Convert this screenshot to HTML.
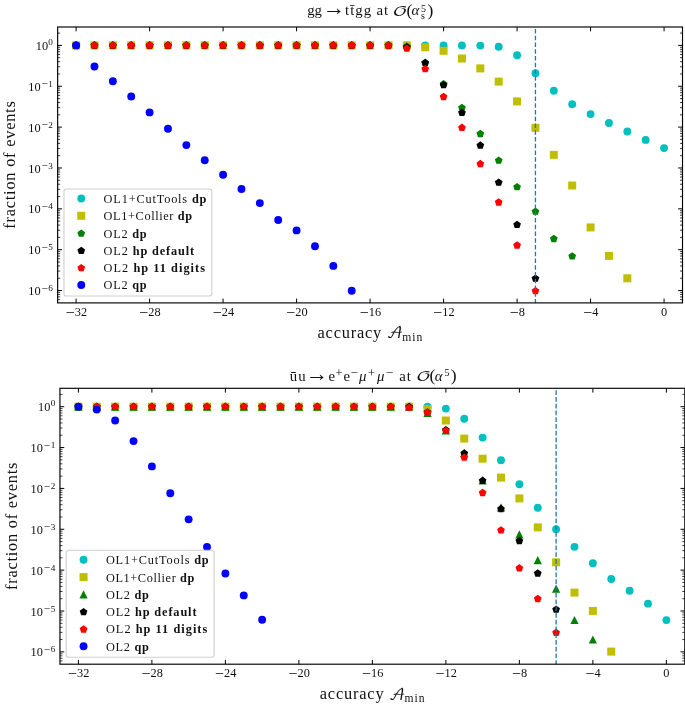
<!DOCTYPE html>
<html lang="en">
<head>
<meta charset="utf-8">
<title>OpenLoops numerical stability</title>
<style>
html,body{margin:0;padding:0;background:#fff;}
body{width:685px;height:716px;overflow:hidden;}
svg{display:block;will-change:transform;}
text{font-family:"Liberation Serif","DejaVu Serif",serif;fill:#111;}
.tl text{font-size:12.3px;}
.tl .sup{font-size:9.2px;}
.tl .mn{font-size:11.2px;}
.tl .xm{font-size:16px;}
.lab{font-size:16.4px;}
.lab.sub{font-size:11.6px;}
.cal{font-family:"DejaVu Math TeX Gyre","Liberation Serif",serif;}
.lg{font-size:12.3px;}
.lg .b{font-weight:bold;}
.ttl text{font-size:14.8px;}
.ttl .ss{font-size:10px;}
.ttl .pm{font-size:13px;}
.ttl .par{font-size:17.5px;}
.ttl .it{font-style:italic;}
.ttl .arr{font-size:22.3px;}
</style>
</head>
<body>
<svg width="685" height="716" viewBox="0 0 685 716">
<rect width="685" height="716" fill="#fff"/>
<g class="ttl">
<text x="307.2" y="15.3" textLength="14.8" lengthAdjust="spacing">gg</text>
<text x="322.4" y="15.3" class="arr">→</text>
<text x="345.1" y="15.3" textLength="26" lengthAdjust="spacing">tt̄gg</text>
<text x="376.4" y="15.3" textLength="11.6" lengthAdjust="spacing">at</text>
<text class="cal" transform="translate(392.6 15.6) scale(1.42 1)" x="0" y="0" style="font-size:13.6px">𝒪</text>
<text x="406.4" y="15.9" class="par">(</text>
<text x="411.5" y="15.3" class="it">α</text>
<text x="420.9" y="12.1" class="ss">5</text>
<text x="421.0" y="19.4" class="ss">s</text>
<text x="427.4" y="15.9" class="par">)</text>
</g>
<g>
<g fill="#00bfbf">
<circle cx="76.1" cy="45.4" r="3.95" fill="#00bfbf"/>
<circle cx="94.47" cy="45.4" r="3.95" fill="#00bfbf"/>
<circle cx="112.85" cy="45.4" r="3.95" fill="#00bfbf"/>
<circle cx="131.22" cy="45.4" r="3.95" fill="#00bfbf"/>
<circle cx="149.6" cy="45.4" r="3.95" fill="#00bfbf"/>
<circle cx="167.97" cy="45.4" r="3.95" fill="#00bfbf"/>
<circle cx="186.34" cy="45.4" r="3.95" fill="#00bfbf"/>
<circle cx="204.72" cy="45.4" r="3.95" fill="#00bfbf"/>
<circle cx="223.09" cy="45.4" r="3.95" fill="#00bfbf"/>
<circle cx="241.47" cy="45.4" r="3.95" fill="#00bfbf"/>
<circle cx="259.84" cy="45.4" r="3.95" fill="#00bfbf"/>
<circle cx="278.21" cy="45.4" r="3.95" fill="#00bfbf"/>
<circle cx="296.59" cy="45.4" r="3.95" fill="#00bfbf"/>
<circle cx="314.96" cy="45.4" r="3.95" fill="#00bfbf"/>
<circle cx="333.34" cy="45.4" r="3.95" fill="#00bfbf"/>
<circle cx="351.71" cy="45.4" r="3.95" fill="#00bfbf"/>
<circle cx="370.08" cy="45.4" r="3.95" fill="#00bfbf"/>
<circle cx="388.46" cy="45.4" r="3.95" fill="#00bfbf"/>
<circle cx="406.83" cy="45.4" r="3.95" fill="#00bfbf"/>
<circle cx="425.21" cy="45.4" r="3.95" fill="#00bfbf"/>
<circle cx="443.58" cy="45.4" r="3.95" fill="#00bfbf"/>
<circle cx="461.95" cy="45.4" r="3.95" fill="#00bfbf"/>
<circle cx="480.33" cy="45.6" r="3.95" fill="#00bfbf"/>
<circle cx="498.7" cy="46.8" r="3.95" fill="#00bfbf"/>
<circle cx="517.08" cy="55.3" r="3.95" fill="#00bfbf"/>
<circle cx="535.45" cy="73.15" r="3.95" fill="#00bfbf"/>
<circle cx="553.82" cy="90.8" r="3.95" fill="#00bfbf"/>
<circle cx="572.2" cy="104.2" r="3.95" fill="#00bfbf"/>
<circle cx="590.57" cy="114.1" r="3.95" fill="#00bfbf"/>
<circle cx="608.95" cy="123" r="3.95" fill="#00bfbf"/>
<circle cx="627.32" cy="131.5" r="3.95" fill="#00bfbf"/>
<circle cx="645.69" cy="139.9" r="3.95" fill="#00bfbf"/>
<circle cx="664.07" cy="148.1" r="3.95" fill="#00bfbf"/>
</g>
<g fill="#bfbf00">
<rect x="72.1" y="41.4" width="8.0" height="8.0" fill="#bfbf00"/>
<rect x="90.47" y="41.4" width="8.0" height="8.0" fill="#bfbf00"/>
<rect x="108.85" y="41.4" width="8.0" height="8.0" fill="#bfbf00"/>
<rect x="127.22" y="41.4" width="8.0" height="8.0" fill="#bfbf00"/>
<rect x="145.6" y="41.4" width="8.0" height="8.0" fill="#bfbf00"/>
<rect x="163.97" y="41.4" width="8.0" height="8.0" fill="#bfbf00"/>
<rect x="182.34" y="41.4" width="8.0" height="8.0" fill="#bfbf00"/>
<rect x="200.72" y="41.4" width="8.0" height="8.0" fill="#bfbf00"/>
<rect x="219.09" y="41.4" width="8.0" height="8.0" fill="#bfbf00"/>
<rect x="237.47" y="41.4" width="8.0" height="8.0" fill="#bfbf00"/>
<rect x="255.84" y="41.4" width="8.0" height="8.0" fill="#bfbf00"/>
<rect x="274.21" y="41.4" width="8.0" height="8.0" fill="#bfbf00"/>
<rect x="292.59" y="41.4" width="8.0" height="8.0" fill="#bfbf00"/>
<rect x="310.96" y="41.4" width="8.0" height="8.0" fill="#bfbf00"/>
<rect x="329.34" y="41.4" width="8.0" height="8.0" fill="#bfbf00"/>
<rect x="347.71" y="41.4" width="8.0" height="8.0" fill="#bfbf00"/>
<rect x="366.08" y="41.4" width="8.0" height="8.0" fill="#bfbf00"/>
<rect x="384.46" y="41.4" width="8.0" height="8.0" fill="#bfbf00"/>
<rect x="402.83" y="41.4" width="8.0" height="8.0" fill="#bfbf00"/>
<rect x="421.21" y="43.3" width="8.0" height="8.0" fill="#bfbf00"/>
<rect x="439.58" y="46.8" width="8.0" height="8.0" fill="#bfbf00"/>
<rect x="457.95" y="54.5" width="8.0" height="8.0" fill="#bfbf00"/>
<rect x="476.33" y="64.4" width="8.0" height="8.0" fill="#bfbf00"/>
<rect x="494.7" y="77.6" width="8.0" height="8.0" fill="#bfbf00"/>
<rect x="513.08" y="97.4" width="8.0" height="8.0" fill="#bfbf00"/>
<rect x="531.45" y="123.8" width="8.0" height="8.0" fill="#bfbf00"/>
<rect x="549.82" y="150.85" width="8.0" height="8.0" fill="#bfbf00"/>
<rect x="568.2" y="181.5" width="8.0" height="8.0" fill="#bfbf00"/>
<rect x="586.57" y="223.4" width="8.0" height="8.0" fill="#bfbf00"/>
<rect x="604.95" y="251.9" width="8.0" height="8.0" fill="#bfbf00"/>
<rect x="623.32" y="274.3" width="8.0" height="8.0" fill="#bfbf00"/>
</g>
<g fill="#008000">
<polygon points="76.1,41.35 72.25,44.15 73.72,48.68 78.48,48.68 79.95,44.15" fill="#008000"/>
<polygon points="94.47,41.35 90.62,44.15 92.09,48.68 96.85,48.68 98.33,44.15" fill="#008000"/>
<polygon points="112.85,41.35 109,44.15 110.47,48.68 115.23,48.68 116.7,44.15" fill="#008000"/>
<polygon points="131.22,41.35 127.37,44.15 128.84,48.68 133.6,48.68 135.07,44.15" fill="#008000"/>
<polygon points="149.6,41.35 145.74,44.15 147.22,48.68 151.98,48.68 153.45,44.15" fill="#008000"/>
<polygon points="167.97,41.35 164.12,44.15 165.59,48.68 170.35,48.68 171.82,44.15" fill="#008000"/>
<polygon points="186.34,41.35 182.49,44.15 183.96,48.68 188.72,48.68 190.2,44.15" fill="#008000"/>
<polygon points="204.72,41.35 200.87,44.15 202.34,48.68 207.1,48.68 208.57,44.15" fill="#008000"/>
<polygon points="223.09,41.35 219.24,44.15 220.71,48.68 225.47,48.68 226.94,44.15" fill="#008000"/>
<polygon points="241.47,41.35 237.61,44.15 239.09,48.68 243.85,48.68 245.32,44.15" fill="#008000"/>
<polygon points="259.84,41.35 255.99,44.15 257.46,48.68 262.22,48.68 263.69,44.15" fill="#008000"/>
<polygon points="278.21,41.35 274.36,44.15 275.83,48.68 280.59,48.68 282.07,44.15" fill="#008000"/>
<polygon points="296.59,41.35 292.74,44.15 294.21,48.68 298.97,48.68 300.44,44.15" fill="#008000"/>
<polygon points="314.96,41.35 311.11,44.15 312.58,48.68 317.34,48.68 318.81,44.15" fill="#008000"/>
<polygon points="333.34,41.35 329.48,44.15 330.96,48.68 335.72,48.68 337.19,44.15" fill="#008000"/>
<polygon points="351.71,41.35 347.86,44.15 349.33,48.68 354.09,48.68 355.56,44.15" fill="#008000"/>
<polygon points="370.08,41.35 366.23,44.15 367.7,48.68 372.46,48.68 373.94,44.15" fill="#008000"/>
<polygon points="388.46,41.35 384.61,44.15 386.08,48.68 390.84,48.68 392.31,44.15" fill="#008000"/>
<polygon points="406.83,42.5 402.98,45.3 404.45,49.83 409.21,49.83 410.68,45.3" fill="#008000"/>
<polygon points="425.21,58.6 421.35,61.4 422.83,65.93 427.59,65.93 429.06,61.4" fill="#008000"/>
<polygon points="443.58,79.9 439.73,82.7 441.2,87.23 445.96,87.23 447.43,82.7" fill="#008000"/>
<polygon points="461.95,103.7 458.1,106.5 459.57,111.03 464.33,111.03 465.81,106.5" fill="#008000"/>
<polygon points="480.33,129.8 476.48,132.6 477.95,137.13 482.71,137.13 484.18,132.6" fill="#008000"/>
<polygon points="498.7,156.4 494.85,159.2 496.32,163.73 501.08,163.73 502.55,159.2" fill="#008000"/>
<polygon points="517.08,182.9 513.22,185.7 514.7,190.23 519.46,190.23 520.93,185.7" fill="#008000"/>
<polygon points="535.45,207.5 531.6,210.3 533.07,214.83 537.83,214.83 539.3,210.3" fill="#008000"/>
<polygon points="553.82,234.8 549.97,237.6 551.44,242.13 556.2,242.13 557.68,237.6" fill="#008000"/>
<polygon points="572.2,252.2 568.35,255 569.82,259.53 574.58,259.53 576.05,255" fill="#008000"/>
</g>
<g fill="#000000">
<polygon points="76.1,41.35 72.25,44.15 73.72,48.68 78.48,48.68 79.95,44.15" fill="#000000"/>
<polygon points="94.47,41.35 90.62,44.15 92.09,48.68 96.85,48.68 98.33,44.15" fill="#000000"/>
<polygon points="112.85,41.35 109,44.15 110.47,48.68 115.23,48.68 116.7,44.15" fill="#000000"/>
<polygon points="131.22,41.35 127.37,44.15 128.84,48.68 133.6,48.68 135.07,44.15" fill="#000000"/>
<polygon points="149.6,41.35 145.74,44.15 147.22,48.68 151.98,48.68 153.45,44.15" fill="#000000"/>
<polygon points="167.97,41.35 164.12,44.15 165.59,48.68 170.35,48.68 171.82,44.15" fill="#000000"/>
<polygon points="186.34,41.35 182.49,44.15 183.96,48.68 188.72,48.68 190.2,44.15" fill="#000000"/>
<polygon points="204.72,41.35 200.87,44.15 202.34,48.68 207.1,48.68 208.57,44.15" fill="#000000"/>
<polygon points="223.09,41.35 219.24,44.15 220.71,48.68 225.47,48.68 226.94,44.15" fill="#000000"/>
<polygon points="241.47,41.35 237.61,44.15 239.09,48.68 243.85,48.68 245.32,44.15" fill="#000000"/>
<polygon points="259.84,41.35 255.99,44.15 257.46,48.68 262.22,48.68 263.69,44.15" fill="#000000"/>
<polygon points="278.21,41.35 274.36,44.15 275.83,48.68 280.59,48.68 282.07,44.15" fill="#000000"/>
<polygon points="296.59,41.35 292.74,44.15 294.21,48.68 298.97,48.68 300.44,44.15" fill="#000000"/>
<polygon points="314.96,41.35 311.11,44.15 312.58,48.68 317.34,48.68 318.81,44.15" fill="#000000"/>
<polygon points="333.34,41.35 329.48,44.15 330.96,48.68 335.72,48.68 337.19,44.15" fill="#000000"/>
<polygon points="351.71,41.35 347.86,44.15 349.33,48.68 354.09,48.68 355.56,44.15" fill="#000000"/>
<polygon points="370.08,41.35 366.23,44.15 367.7,48.68 372.46,48.68 373.94,44.15" fill="#000000"/>
<polygon points="388.46,41.35 384.61,44.15 386.08,48.68 390.84,48.68 392.31,44.15" fill="#000000"/>
<polygon points="406.83,43.3 402.98,46.1 404.45,50.63 409.21,50.63 410.68,46.1" fill="#000000"/>
<polygon points="425.21,59 421.35,61.8 422.83,66.33 427.59,66.33 429.06,61.8" fill="#000000"/>
<polygon points="443.58,80.9 439.73,83.7 441.2,88.23 445.96,88.23 447.43,83.7" fill="#000000"/>
<polygon points="461.95,108.7 458.1,111.5 459.57,116.03 464.33,116.03 465.81,111.5" fill="#000000"/>
<polygon points="480.33,141.35 476.48,144.15 477.95,148.68 482.71,148.68 484.18,144.15" fill="#000000"/>
<polygon points="498.7,178.45 494.85,181.25 496.32,185.78 501.08,185.78 502.55,181.25" fill="#000000"/>
<polygon points="517.08,220.7 513.22,223.5 514.7,228.03 519.46,228.03 520.93,223.5" fill="#000000"/>
<polygon points="535.45,274.5 531.6,277.3 533.07,281.83 537.83,281.83 539.3,277.3" fill="#000000"/>
</g>
<g fill="#ff0000">
<polygon points="76.1,41.35 72.25,44.15 73.72,48.68 78.48,48.68 79.95,44.15" fill="#ff0000"/>
<polygon points="94.47,41.35 90.62,44.15 92.09,48.68 96.85,48.68 98.33,44.15" fill="#ff0000"/>
<polygon points="112.85,41.35 109,44.15 110.47,48.68 115.23,48.68 116.7,44.15" fill="#ff0000"/>
<polygon points="131.22,41.35 127.37,44.15 128.84,48.68 133.6,48.68 135.07,44.15" fill="#ff0000"/>
<polygon points="149.6,41.35 145.74,44.15 147.22,48.68 151.98,48.68 153.45,44.15" fill="#ff0000"/>
<polygon points="167.97,41.35 164.12,44.15 165.59,48.68 170.35,48.68 171.82,44.15" fill="#ff0000"/>
<polygon points="186.34,41.35 182.49,44.15 183.96,48.68 188.72,48.68 190.2,44.15" fill="#ff0000"/>
<polygon points="204.72,41.35 200.87,44.15 202.34,48.68 207.1,48.68 208.57,44.15" fill="#ff0000"/>
<polygon points="223.09,41.35 219.24,44.15 220.71,48.68 225.47,48.68 226.94,44.15" fill="#ff0000"/>
<polygon points="241.47,41.35 237.61,44.15 239.09,48.68 243.85,48.68 245.32,44.15" fill="#ff0000"/>
<polygon points="259.84,41.35 255.99,44.15 257.46,48.68 262.22,48.68 263.69,44.15" fill="#ff0000"/>
<polygon points="278.21,41.35 274.36,44.15 275.83,48.68 280.59,48.68 282.07,44.15" fill="#ff0000"/>
<polygon points="296.59,41.35 292.74,44.15 294.21,48.68 298.97,48.68 300.44,44.15" fill="#ff0000"/>
<polygon points="314.96,41.35 311.11,44.15 312.58,48.68 317.34,48.68 318.81,44.15" fill="#ff0000"/>
<polygon points="333.34,41.35 329.48,44.15 330.96,48.68 335.72,48.68 337.19,44.15" fill="#ff0000"/>
<polygon points="351.71,41.35 347.86,44.15 349.33,48.68 354.09,48.68 355.56,44.15" fill="#ff0000"/>
<polygon points="370.08,41.35 366.23,44.15 367.7,48.68 372.46,48.68 373.94,44.15" fill="#ff0000"/>
<polygon points="388.46,41.35 384.61,44.15 386.08,48.68 390.84,48.68 392.31,44.15" fill="#ff0000"/>
<polygon points="406.83,44.4 402.98,47.2 404.45,51.73 409.21,51.73 410.68,47.2" fill="#ff0000"/>
<polygon points="425.21,65 421.35,67.8 422.83,72.33 427.59,72.33 429.06,67.8" fill="#ff0000"/>
<polygon points="443.58,92.8 439.73,95.6 441.2,100.13 445.96,100.13 447.43,95.6" fill="#ff0000"/>
<polygon points="461.95,123.6 458.1,126.4 459.57,130.93 464.33,130.93 465.81,126.4" fill="#ff0000"/>
<polygon points="480.33,159.85 476.48,162.65 477.95,167.18 482.71,167.18 484.18,162.65" fill="#ff0000"/>
<polygon points="498.7,198.3 494.85,201.1 496.32,205.63 501.08,205.63 502.55,201.1" fill="#ff0000"/>
<polygon points="517.08,241.3 513.22,244.1 514.7,248.63 519.46,248.63 520.93,244.1" fill="#ff0000"/>
<polygon points="535.45,287 531.6,289.8 533.07,294.33 537.83,294.33 539.3,289.8" fill="#ff0000"/>
</g>
<g fill="#0000ff">
<circle cx="76.1" cy="45.4" r="3.95" fill="#0000ff"/>
<circle cx="94.47" cy="66.45" r="3.95" fill="#0000ff"/>
<circle cx="112.85" cy="81.3" r="3.95" fill="#0000ff"/>
<circle cx="131.22" cy="96.5" r="3.95" fill="#0000ff"/>
<circle cx="149.6" cy="112.4" r="3.95" fill="#0000ff"/>
<circle cx="167.97" cy="128.75" r="3.95" fill="#0000ff"/>
<circle cx="186.34" cy="145.1" r="3.95" fill="#0000ff"/>
<circle cx="204.72" cy="160.2" r="3.95" fill="#0000ff"/>
<circle cx="223.09" cy="174.75" r="3.95" fill="#0000ff"/>
<circle cx="241.47" cy="189" r="3.95" fill="#0000ff"/>
<circle cx="259.84" cy="203.1" r="3.95" fill="#0000ff"/>
<circle cx="278.21" cy="220" r="3.95" fill="#0000ff"/>
<circle cx="296.59" cy="230.4" r="3.95" fill="#0000ff"/>
<circle cx="314.96" cy="246.3" r="3.95" fill="#0000ff"/>
<circle cx="333.34" cy="265.9" r="3.95" fill="#0000ff"/>
<circle cx="351.71" cy="290.7" r="3.95" fill="#0000ff"/>
</g>
<line x1="535.45" y1="302.9" x2="535.45" y2="27" stroke="#1f77b4" stroke-width="1.3" stroke-dasharray="4.7 2.05" stroke-dashoffset="0.7"/>
<path d="M76.1 302.9v-4.3M76.1 27v4.3M149.6 302.9v-4.3M149.6 27v4.3M223.09 302.9v-4.3M223.09 27v4.3M296.59 302.9v-4.3M296.59 27v4.3M370.08 302.9v-4.3M370.08 27v4.3M443.58 302.9v-4.3M443.58 27v4.3M517.08 302.9v-4.3M517.08 27v4.3M590.57 302.9v-4.3M590.57 27v4.3M664.07 302.9v-4.3M664.07 27v4.3M57.65 45.4h4.3M682.5 45.4h-4.3M57.65 86.26h4.3M682.5 86.26h-4.3M57.65 127.12h4.3M682.5 127.12h-4.3M57.65 167.98h4.3M682.5 167.98h-4.3M57.65 208.84h4.3M682.5 208.84h-4.3M57.65 249.7h4.3M682.5 249.7h-4.3M57.65 290.56h4.3M682.5 290.56h-4.3" stroke="#000" stroke-width="1" fill="none"/>
<path d="M57.65 33.1h2.5M682.5 33.1h-2.5M57.65 73.96h2.5M682.5 73.96h-2.5M57.65 66.76h2.5M682.5 66.76h-2.5M57.65 61.66h2.5M682.5 61.66h-2.5M57.65 57.7h2.5M682.5 57.7h-2.5M57.65 54.46h2.5M682.5 54.46h-2.5M57.65 51.73h2.5M682.5 51.73h-2.5M57.65 49.36h2.5M682.5 49.36h-2.5M57.65 47.27h2.5M682.5 47.27h-2.5M57.65 114.82h2.5M682.5 114.82h-2.5M57.65 107.62h2.5M682.5 107.62h-2.5M57.65 102.52h2.5M682.5 102.52h-2.5M57.65 98.56h2.5M682.5 98.56h-2.5M57.65 95.32h2.5M682.5 95.32h-2.5M57.65 92.59h2.5M682.5 92.59h-2.5M57.65 90.22h2.5M682.5 90.22h-2.5M57.65 88.13h2.5M682.5 88.13h-2.5M57.65 155.68h2.5M682.5 155.68h-2.5M57.65 148.48h2.5M682.5 148.48h-2.5M57.65 143.38h2.5M682.5 143.38h-2.5M57.65 139.42h2.5M682.5 139.42h-2.5M57.65 136.18h2.5M682.5 136.18h-2.5M57.65 133.45h2.5M682.5 133.45h-2.5M57.65 131.08h2.5M682.5 131.08h-2.5M57.65 128.99h2.5M682.5 128.99h-2.5M57.65 196.54h2.5M682.5 196.54h-2.5M57.65 189.34h2.5M682.5 189.34h-2.5M57.65 184.24h2.5M682.5 184.24h-2.5M57.65 180.28h2.5M682.5 180.28h-2.5M57.65 177.04h2.5M682.5 177.04h-2.5M57.65 174.31h2.5M682.5 174.31h-2.5M57.65 171.94h2.5M682.5 171.94h-2.5M57.65 169.85h2.5M682.5 169.85h-2.5M57.65 237.4h2.5M682.5 237.4h-2.5M57.65 230.2h2.5M682.5 230.2h-2.5M57.65 225.1h2.5M682.5 225.1h-2.5M57.65 221.14h2.5M682.5 221.14h-2.5M57.65 217.9h2.5M682.5 217.9h-2.5M57.65 215.17h2.5M682.5 215.17h-2.5M57.65 212.8h2.5M682.5 212.8h-2.5M57.65 210.71h2.5M682.5 210.71h-2.5M57.65 278.26h2.5M682.5 278.26h-2.5M57.65 271.06h2.5M682.5 271.06h-2.5M57.65 265.96h2.5M682.5 265.96h-2.5M57.65 262h2.5M682.5 262h-2.5M57.65 258.76h2.5M682.5 258.76h-2.5M57.65 256.03h2.5M682.5 256.03h-2.5M57.65 253.66h2.5M682.5 253.66h-2.5M57.65 251.57h2.5M682.5 251.57h-2.5M57.65 299.62h2.5M682.5 299.62h-2.5M57.65 296.89h2.5M682.5 296.89h-2.5M57.65 294.52h2.5M682.5 294.52h-2.5M57.65 292.43h2.5M682.5 292.43h-2.5" stroke="#000" stroke-width="0.75" fill="none"/>
<rect x="57.65" y="27" width="624.85" height="275.9" fill="none" stroke="#000" stroke-width="1.15"/>
<g class="tl">
<text x="76.4" y="315.75" text-anchor="middle"><tspan class="xm" dy="2.3">−</tspan><tspan dy="-2.3">32</tspan></text>
<text x="149.9" y="315.75" text-anchor="middle"><tspan class="xm" dy="2.3">−</tspan><tspan dy="-2.3">28</tspan></text>
<text x="223.39" y="315.75" text-anchor="middle"><tspan class="xm" dy="2.3">−</tspan><tspan dy="-2.3">24</tspan></text>
<text x="296.89" y="315.75" text-anchor="middle"><tspan class="xm" dy="2.3">−</tspan><tspan dy="-2.3">20</tspan></text>
<text x="370.38" y="315.75" text-anchor="middle"><tspan class="xm" dy="2.3">−</tspan><tspan dy="-2.3">16</tspan></text>
<text x="443.88" y="315.75" text-anchor="middle"><tspan class="xm" dy="2.3">−</tspan><tspan dy="-2.3">12</tspan></text>
<text x="517.38" y="315.75" text-anchor="middle"><tspan class="xm" dy="2.3">−</tspan><tspan dy="-2.3">8</tspan></text>
<text x="590.87" y="315.75" text-anchor="middle"><tspan class="xm" dy="2.3">−</tspan><tspan dy="-2.3">4</tspan></text>
<text x="664.07" y="315.75" text-anchor="middle">0</text>
<text x="48.05" y="49.95" text-anchor="end">10</text>
<text class="sup" x="52.95" y="45.15" text-anchor="end">0</text>
<text x="40.55" y="90.81" text-anchor="end">10</text>
<text class="mn" x="41.55" y="87.41">−</text>
<text class="sup" x="52.95" y="86.81" text-anchor="end">1</text>
<text x="40.55" y="131.67" text-anchor="end">10</text>
<text class="mn" x="41.55" y="128.27">−</text>
<text class="sup" x="52.95" y="127.67" text-anchor="end">2</text>
<text x="40.55" y="172.53" text-anchor="end">10</text>
<text class="mn" x="41.55" y="169.13">−</text>
<text class="sup" x="52.95" y="168.53" text-anchor="end">3</text>
<text x="40.55" y="213.39" text-anchor="end">10</text>
<text class="mn" x="41.55" y="209.99">−</text>
<text class="sup" x="52.95" y="209.39" text-anchor="end">4</text>
<text x="40.55" y="254.25" text-anchor="end">10</text>
<text class="mn" x="41.55" y="250.85">−</text>
<text class="sup" x="52.95" y="250.25" text-anchor="end">5</text>
<text x="40.55" y="295.11" text-anchor="end">10</text>
<text class="mn" x="41.55" y="291.71">−</text>
<text class="sup" x="52.95" y="291.11" text-anchor="end">6</text>
</g>
<text class="lab" x="317.5" y="337.8" textLength="63.8" lengthAdjust="spacing">accuracy</text>
<text class="cal" transform="translate(386.8 338.2) scale(1.05 1)" style="font-size:14.7px">𝒜</text>
<text class="lab sub" x="402.3" y="340.8" textLength="20" lengthAdjust="spacing">min</text>
<text class="lab" transform="translate(14.7 164.95) rotate(-90)" text-anchor="middle" textLength="127.5" lengthAdjust="spacing">fraction of events</text>
<rect x="63.97" y="189" width="147.83" height="107" rx="2.6" fill="#fff" fill-opacity="0.8" stroke="#ccc" stroke-opacity="0.95" stroke-width="1.1"/>
<circle cx="81.26" cy="198.5" r="3.95" fill="#00bfbf"/>
<text class="lg" x="103.6" y="202.9" textLength="102.8" lengthAdjust="spacing">OL1+CutTools <tspan class="b">dp</tspan></text>
<rect x="77.26" y="211.8" width="8.0" height="8.0" fill="#bfbf00"/>
<text class="lg" x="103.6" y="220.2" textLength="88.5" lengthAdjust="spacing">OL1+Collier <tspan class="b">dp</tspan></text>
<polygon points="81.26,229.4 77.41,232.2 78.88,236.73 83.64,236.73 85.11,232.2" fill="#008000"/>
<text class="lg" x="103.6" y="237.5" textLength="43.0" lengthAdjust="spacing">OL2 <tspan class="b">dp</tspan></text>
<polygon points="81.26,246.7 77.41,249.5 78.88,254.03 83.64,254.03 85.11,249.5" fill="#000000"/>
<text class="lg" x="103.6" y="254.8" textLength="90.6" lengthAdjust="spacing">OL2 <tspan class="b">hp default</tspan></text>
<polygon points="81.26,264 77.41,266.8 78.88,271.33 83.64,271.33 85.11,266.8" fill="#ff0000"/>
<text class="lg" x="103.6" y="272.1" textLength="101.4" lengthAdjust="spacing">OL2 <tspan class="b">hp 11 digits</tspan></text>
<circle cx="81.26" cy="285" r="3.95" fill="#0000ff"/>
<text class="lg" x="103.6" y="289.4" textLength="43.0" lengthAdjust="spacing">OL2 <tspan class="b">qp</tspan></text>
</g>
<g class="ttl">
<text x="289.8" y="380.5" textLength="15.8" lengthAdjust="spacing">ūu</text>
<text x="305.5" y="380.5" class="arr">→</text>
<text x="328.4" y="380.5">e</text>
<text x="335.3" y="377.4" class="pm">+</text>
<text x="343.4" y="380.5">e</text>
<text x="350.4" y="377.0" class="pm">−</text>
<text x="359.0" y="380.5" class="it">μ</text>
<text x="367.8" y="377.4" class="pm">+</text>
<text x="377.0" y="380.5" class="it">μ</text>
<text x="385.8" y="377.0" class="pm">−</text>
<text x="399.3" y="380.5" textLength="11.6" lengthAdjust="spacing">at</text>
<text class="cal" transform="translate(415.9 380.8) scale(1.42 1)" x="0" y="0" style="font-size:13.6px">𝒪</text>
<text x="429.6" y="381.1" class="par">(</text>
<text x="434.7" y="380.5" class="it">α</text>
<text x="444.6" y="375.9" class="ss">5</text>
<text x="450.7" y="381.1" class="par">)</text>
</g>
<g>
<g fill="#00bfbf">
<circle cx="78.4" cy="406.7" r="3.95" fill="#00bfbf"/>
<circle cx="96.77" cy="406.7" r="3.95" fill="#00bfbf"/>
<circle cx="115.15" cy="406.7" r="3.95" fill="#00bfbf"/>
<circle cx="133.52" cy="406.7" r="3.95" fill="#00bfbf"/>
<circle cx="151.9" cy="406.7" r="3.95" fill="#00bfbf"/>
<circle cx="170.27" cy="406.7" r="3.95" fill="#00bfbf"/>
<circle cx="188.64" cy="406.7" r="3.95" fill="#00bfbf"/>
<circle cx="207.02" cy="406.7" r="3.95" fill="#00bfbf"/>
<circle cx="225.39" cy="406.7" r="3.95" fill="#00bfbf"/>
<circle cx="243.77" cy="406.7" r="3.95" fill="#00bfbf"/>
<circle cx="262.14" cy="406.7" r="3.95" fill="#00bfbf"/>
<circle cx="280.51" cy="406.7" r="3.95" fill="#00bfbf"/>
<circle cx="298.89" cy="406.7" r="3.95" fill="#00bfbf"/>
<circle cx="317.26" cy="406.7" r="3.95" fill="#00bfbf"/>
<circle cx="335.64" cy="406.7" r="3.95" fill="#00bfbf"/>
<circle cx="354.01" cy="406.7" r="3.95" fill="#00bfbf"/>
<circle cx="372.38" cy="406.7" r="3.95" fill="#00bfbf"/>
<circle cx="390.76" cy="406.7" r="3.95" fill="#00bfbf"/>
<circle cx="409.13" cy="406.7" r="3.95" fill="#00bfbf"/>
<circle cx="427.51" cy="406.7" r="3.95" fill="#00bfbf"/>
<circle cx="445.88" cy="408.6" r="3.95" fill="#00bfbf"/>
<circle cx="464.25" cy="418.75" r="3.95" fill="#00bfbf"/>
<circle cx="482.63" cy="437.6" r="3.95" fill="#00bfbf"/>
<circle cx="501" cy="460.2" r="3.95" fill="#00bfbf"/>
<circle cx="519.38" cy="484.3" r="3.95" fill="#00bfbf"/>
<circle cx="537.75" cy="507.75" r="3.95" fill="#00bfbf"/>
<circle cx="556.12" cy="529.3" r="3.95" fill="#00bfbf"/>
<circle cx="574.5" cy="546.85" r="3.95" fill="#00bfbf"/>
<circle cx="592.87" cy="563.2" r="3.95" fill="#00bfbf"/>
<circle cx="611.25" cy="579.05" r="3.95" fill="#00bfbf"/>
<circle cx="629.62" cy="590.8" r="3.95" fill="#00bfbf"/>
<circle cx="647.99" cy="603.65" r="3.95" fill="#00bfbf"/>
<circle cx="666.37" cy="620.1" r="3.95" fill="#00bfbf"/>
</g>
<g fill="#bfbf00">
<rect x="74.4" y="402.7" width="8.0" height="8.0" fill="#bfbf00"/>
<rect x="92.77" y="402.7" width="8.0" height="8.0" fill="#bfbf00"/>
<rect x="111.15" y="402.7" width="8.0" height="8.0" fill="#bfbf00"/>
<rect x="129.52" y="402.7" width="8.0" height="8.0" fill="#bfbf00"/>
<rect x="147.9" y="402.7" width="8.0" height="8.0" fill="#bfbf00"/>
<rect x="166.27" y="402.7" width="8.0" height="8.0" fill="#bfbf00"/>
<rect x="184.64" y="402.7" width="8.0" height="8.0" fill="#bfbf00"/>
<rect x="203.02" y="402.7" width="8.0" height="8.0" fill="#bfbf00"/>
<rect x="221.39" y="402.7" width="8.0" height="8.0" fill="#bfbf00"/>
<rect x="239.77" y="402.7" width="8.0" height="8.0" fill="#bfbf00"/>
<rect x="258.14" y="402.7" width="8.0" height="8.0" fill="#bfbf00"/>
<rect x="276.51" y="402.7" width="8.0" height="8.0" fill="#bfbf00"/>
<rect x="294.89" y="402.7" width="8.0" height="8.0" fill="#bfbf00"/>
<rect x="313.26" y="402.7" width="8.0" height="8.0" fill="#bfbf00"/>
<rect x="331.64" y="402.7" width="8.0" height="8.0" fill="#bfbf00"/>
<rect x="350.01" y="402.7" width="8.0" height="8.0" fill="#bfbf00"/>
<rect x="368.38" y="402.7" width="8.0" height="8.0" fill="#bfbf00"/>
<rect x="386.76" y="402.7" width="8.0" height="8.0" fill="#bfbf00"/>
<rect x="405.13" y="402.7" width="8.0" height="8.0" fill="#bfbf00"/>
<rect x="423.51" y="405.1" width="8.0" height="8.0" fill="#bfbf00"/>
<rect x="441.88" y="416.5" width="8.0" height="8.0" fill="#bfbf00"/>
<rect x="460.25" y="434.6" width="8.0" height="8.0" fill="#bfbf00"/>
<rect x="478.63" y="454.7" width="8.0" height="8.0" fill="#bfbf00"/>
<rect x="497" y="473.6" width="8.0" height="8.0" fill="#bfbf00"/>
<rect x="515.38" y="494.4" width="8.0" height="8.0" fill="#bfbf00"/>
<rect x="533.75" y="523.4" width="8.0" height="8.0" fill="#bfbf00"/>
<rect x="552.12" y="558.3" width="8.0" height="8.0" fill="#bfbf00"/>
<rect x="570.5" y="588.6" width="8.0" height="8.0" fill="#bfbf00"/>
<rect x="588.87" y="606.95" width="8.0" height="8.0" fill="#bfbf00"/>
<rect x="607.25" y="647.6" width="8.0" height="8.0" fill="#bfbf00"/>
</g>
<g fill="#008000">
<polygon points="78.4,402.6 74.3,410.8 82.5,410.8" fill="#008000"/>
<polygon points="96.77,402.6 92.67,410.8 100.87,410.8" fill="#008000"/>
<polygon points="115.15,402.6 111.05,410.8 119.25,410.8" fill="#008000"/>
<polygon points="133.52,402.6 129.42,410.8 137.62,410.8" fill="#008000"/>
<polygon points="151.9,402.6 147.8,410.8 156,410.8" fill="#008000"/>
<polygon points="170.27,402.6 166.17,410.8 174.37,410.8" fill="#008000"/>
<polygon points="188.64,402.6 184.54,410.8 192.74,410.8" fill="#008000"/>
<polygon points="207.02,402.6 202.92,410.8 211.12,410.8" fill="#008000"/>
<polygon points="225.39,402.6 221.29,410.8 229.49,410.8" fill="#008000"/>
<polygon points="243.77,402.6 239.67,410.8 247.87,410.8" fill="#008000"/>
<polygon points="262.14,402.6 258.04,410.8 266.24,410.8" fill="#008000"/>
<polygon points="280.51,402.6 276.41,410.8 284.61,410.8" fill="#008000"/>
<polygon points="298.89,402.6 294.79,410.8 302.99,410.8" fill="#008000"/>
<polygon points="317.26,402.6 313.16,410.8 321.36,410.8" fill="#008000"/>
<polygon points="335.64,402.6 331.54,410.8 339.74,410.8" fill="#008000"/>
<polygon points="354.01,402.6 349.91,410.8 358.11,410.8" fill="#008000"/>
<polygon points="372.38,402.6 368.28,410.8 376.48,410.8" fill="#008000"/>
<polygon points="390.76,402.6 386.66,410.8 394.86,410.8" fill="#008000"/>
<polygon points="409.13,402.6 405.03,410.8 413.23,410.8" fill="#008000"/>
<polygon points="427.51,408.7 423.41,416.9 431.61,416.9" fill="#008000"/>
<polygon points="445.88,426.3 441.78,434.5 449.98,434.5" fill="#008000"/>
<polygon points="464.25,448.9 460.15,457.1 468.35,457.1" fill="#008000"/>
<polygon points="482.63,476.4 478.53,484.6 486.73,484.6" fill="#008000"/>
<polygon points="501,503.3 496.9,511.5 505.1,511.5" fill="#008000"/>
<polygon points="519.38,530.2 515.28,538.4 523.48,538.4" fill="#008000"/>
<polygon points="537.75,556 533.65,564.2 541.85,564.2" fill="#008000"/>
<polygon points="556.12,584.5 552.02,592.7 560.22,592.7" fill="#008000"/>
<polygon points="574.5,615.9 570.4,624.1 578.6,624.1" fill="#008000"/>
<polygon points="592.87,635.4 588.77,643.6 596.97,643.6" fill="#008000"/>
</g>
<g fill="#000000">
<polygon points="78.4,402.65 74.55,405.45 76.02,409.98 80.78,409.98 82.25,405.45" fill="#000000"/>
<polygon points="96.77,402.65 92.92,405.45 94.39,409.98 99.15,409.98 100.63,405.45" fill="#000000"/>
<polygon points="115.15,402.65 111.3,405.45 112.77,409.98 117.53,409.98 119,405.45" fill="#000000"/>
<polygon points="133.52,402.65 129.67,405.45 131.14,409.98 135.9,409.98 137.37,405.45" fill="#000000"/>
<polygon points="151.9,402.65 148.04,405.45 149.52,409.98 154.28,409.98 155.75,405.45" fill="#000000"/>
<polygon points="170.27,402.65 166.42,405.45 167.89,409.98 172.65,409.98 174.12,405.45" fill="#000000"/>
<polygon points="188.64,402.65 184.79,405.45 186.26,409.98 191.02,409.98 192.5,405.45" fill="#000000"/>
<polygon points="207.02,402.65 203.17,405.45 204.64,409.98 209.4,409.98 210.87,405.45" fill="#000000"/>
<polygon points="225.39,402.65 221.54,405.45 223.01,409.98 227.77,409.98 229.24,405.45" fill="#000000"/>
<polygon points="243.77,402.65 239.91,405.45 241.39,409.98 246.15,409.98 247.62,405.45" fill="#000000"/>
<polygon points="262.14,402.65 258.29,405.45 259.76,409.98 264.52,409.98 265.99,405.45" fill="#000000"/>
<polygon points="280.51,402.65 276.66,405.45 278.13,409.98 282.89,409.98 284.37,405.45" fill="#000000"/>
<polygon points="298.89,402.65 295.04,405.45 296.51,409.98 301.27,409.98 302.74,405.45" fill="#000000"/>
<polygon points="317.26,402.65 313.41,405.45 314.88,409.98 319.64,409.98 321.11,405.45" fill="#000000"/>
<polygon points="335.64,402.65 331.78,405.45 333.26,409.98 338.02,409.98 339.49,405.45" fill="#000000"/>
<polygon points="354.01,402.65 350.16,405.45 351.63,409.98 356.39,409.98 357.86,405.45" fill="#000000"/>
<polygon points="372.38,402.65 368.53,405.45 370,409.98 374.76,409.98 376.24,405.45" fill="#000000"/>
<polygon points="390.76,402.65 386.91,405.45 388.38,409.98 393.14,409.98 394.61,405.45" fill="#000000"/>
<polygon points="409.13,402.65 405.28,405.45 406.75,409.98 411.51,409.98 412.98,405.45" fill="#000000"/>
<polygon points="427.51,408.3 423.65,411.1 425.13,415.63 429.89,415.63 431.36,411.1" fill="#000000"/>
<polygon points="445.88,426 442.03,428.8 443.5,433.33 448.26,433.33 449.73,428.8" fill="#000000"/>
<polygon points="464.25,449.3 460.4,452.1 461.87,456.63 466.63,456.63 468.11,452.1" fill="#000000"/>
<polygon points="482.63,476.6 478.78,479.4 480.25,483.93 485.01,483.93 486.48,479.4" fill="#000000"/>
<polygon points="501,504.85 497.15,507.65 498.62,512.18 503.38,512.18 504.85,507.65" fill="#000000"/>
<polygon points="519.38,536.85 515.52,539.65 517,544.18 521.76,544.18 523.23,539.65" fill="#000000"/>
<polygon points="537.75,569.3 533.9,572.1 535.37,576.63 540.13,576.63 541.6,572.1" fill="#000000"/>
<polygon points="556.12,605.5 552.27,608.3 553.74,612.83 558.5,612.83 559.98,608.3" fill="#000000"/>
</g>
<g fill="#ff0000">
<polygon points="78.4,402.65 74.55,405.45 76.02,409.98 80.78,409.98 82.25,405.45" fill="#ff0000"/>
<polygon points="96.77,402.65 92.92,405.45 94.39,409.98 99.15,409.98 100.63,405.45" fill="#ff0000"/>
<polygon points="115.15,402.65 111.3,405.45 112.77,409.98 117.53,409.98 119,405.45" fill="#ff0000"/>
<polygon points="133.52,402.65 129.67,405.45 131.14,409.98 135.9,409.98 137.37,405.45" fill="#ff0000"/>
<polygon points="151.9,402.65 148.04,405.45 149.52,409.98 154.28,409.98 155.75,405.45" fill="#ff0000"/>
<polygon points="170.27,402.65 166.42,405.45 167.89,409.98 172.65,409.98 174.12,405.45" fill="#ff0000"/>
<polygon points="188.64,402.65 184.79,405.45 186.26,409.98 191.02,409.98 192.5,405.45" fill="#ff0000"/>
<polygon points="207.02,402.65 203.17,405.45 204.64,409.98 209.4,409.98 210.87,405.45" fill="#ff0000"/>
<polygon points="225.39,402.65 221.54,405.45 223.01,409.98 227.77,409.98 229.24,405.45" fill="#ff0000"/>
<polygon points="243.77,402.65 239.91,405.45 241.39,409.98 246.15,409.98 247.62,405.45" fill="#ff0000"/>
<polygon points="262.14,402.65 258.29,405.45 259.76,409.98 264.52,409.98 265.99,405.45" fill="#ff0000"/>
<polygon points="280.51,402.65 276.66,405.45 278.13,409.98 282.89,409.98 284.37,405.45" fill="#ff0000"/>
<polygon points="298.89,402.65 295.04,405.45 296.51,409.98 301.27,409.98 302.74,405.45" fill="#ff0000"/>
<polygon points="317.26,402.65 313.41,405.45 314.88,409.98 319.64,409.98 321.11,405.45" fill="#ff0000"/>
<polygon points="335.64,402.65 331.78,405.45 333.26,409.98 338.02,409.98 339.49,405.45" fill="#ff0000"/>
<polygon points="354.01,402.65 350.16,405.45 351.63,409.98 356.39,409.98 357.86,405.45" fill="#ff0000"/>
<polygon points="372.38,402.65 368.53,405.45 370,409.98 374.76,409.98 376.24,405.45" fill="#ff0000"/>
<polygon points="390.76,402.65 386.91,405.45 388.38,409.98 393.14,409.98 394.61,405.45" fill="#ff0000"/>
<polygon points="409.13,403.6 405.28,406.4 406.75,410.93 411.51,410.93 412.98,406.4" fill="#ff0000"/>
<polygon points="427.51,408.6 423.65,411.4 425.13,415.93 429.89,415.93 431.36,411.4" fill="#ff0000"/>
<polygon points="445.88,426.7 442.03,429.5 443.5,434.03 448.26,434.03 449.73,429.5" fill="#ff0000"/>
<polygon points="464.25,453.5 460.4,456.3 461.87,460.83 466.63,460.83 468.11,456.3" fill="#ff0000"/>
<polygon points="482.63,488.8 478.78,491.6 480.25,496.13 485.01,496.13 486.48,491.6" fill="#ff0000"/>
<polygon points="501,526.15 497.15,528.95 498.62,533.48 503.38,533.48 504.85,528.95" fill="#ff0000"/>
<polygon points="519.38,564.1 515.52,566.9 517,571.43 521.76,571.43 523.23,566.9" fill="#ff0000"/>
<polygon points="537.75,594.8 533.9,597.6 535.37,602.13 540.13,602.13 541.6,597.6" fill="#ff0000"/>
<polygon points="556.12,628.6 552.27,631.4 553.74,635.93 558.5,635.93 559.98,631.4" fill="#ff0000"/>
</g>
<g fill="#0000ff">
<circle cx="78.4" cy="406.8" r="3.95" fill="#0000ff"/>
<circle cx="96.77" cy="409.6" r="3.95" fill="#0000ff"/>
<circle cx="115.15" cy="420.5" r="3.95" fill="#0000ff"/>
<circle cx="133.52" cy="441.1" r="3.95" fill="#0000ff"/>
<circle cx="151.9" cy="466.4" r="3.95" fill="#0000ff"/>
<circle cx="170.27" cy="493.2" r="3.95" fill="#0000ff"/>
<circle cx="188.64" cy="519.35" r="3.95" fill="#0000ff"/>
<circle cx="207.02" cy="547" r="3.95" fill="#0000ff"/>
<circle cx="225.39" cy="573.5" r="3.95" fill="#0000ff"/>
<circle cx="243.77" cy="595.4" r="3.95" fill="#0000ff"/>
<circle cx="262.14" cy="619.7" r="3.95" fill="#0000ff"/>
</g>
<line x1="556.12" y1="664.2" x2="556.12" y2="388.3" stroke="#1f77b4" stroke-width="1.3" stroke-dasharray="4.7 2.05" stroke-dashoffset="0.7"/>
<path d="M78.4 664.2v-4.3M78.4 388.3v4.3M151.9 664.2v-4.3M151.9 388.3v4.3M225.39 664.2v-4.3M225.39 388.3v4.3M298.89 664.2v-4.3M298.89 388.3v4.3M372.38 664.2v-4.3M372.38 388.3v4.3M445.88 664.2v-4.3M445.88 388.3v4.3M519.38 664.2v-4.3M519.38 388.3v4.3M592.87 664.2v-4.3M592.87 388.3v4.3M666.37 664.2v-4.3M666.37 388.3v4.3M59.95 406.7h4.3M684.8 406.7h-4.3M59.95 447.56h4.3M684.8 447.56h-4.3M59.95 488.42h4.3M684.8 488.42h-4.3M59.95 529.28h4.3M684.8 529.28h-4.3M59.95 570.14h4.3M684.8 570.14h-4.3M59.95 611h4.3M684.8 611h-4.3M59.95 651.86h4.3M684.8 651.86h-4.3" stroke="#000" stroke-width="1" fill="none"/>
<path d="M59.95 394.4h2.5M684.8 394.4h-2.5M59.95 435.26h2.5M684.8 435.26h-2.5M59.95 428.06h2.5M684.8 428.06h-2.5M59.95 422.96h2.5M684.8 422.96h-2.5M59.95 419h2.5M684.8 419h-2.5M59.95 415.76h2.5M684.8 415.76h-2.5M59.95 413.03h2.5M684.8 413.03h-2.5M59.95 410.66h2.5M684.8 410.66h-2.5M59.95 408.57h2.5M684.8 408.57h-2.5M59.95 476.12h2.5M684.8 476.12h-2.5M59.95 468.92h2.5M684.8 468.92h-2.5M59.95 463.82h2.5M684.8 463.82h-2.5M59.95 459.86h2.5M684.8 459.86h-2.5M59.95 456.62h2.5M684.8 456.62h-2.5M59.95 453.89h2.5M684.8 453.89h-2.5M59.95 451.52h2.5M684.8 451.52h-2.5M59.95 449.43h2.5M684.8 449.43h-2.5M59.95 516.98h2.5M684.8 516.98h-2.5M59.95 509.78h2.5M684.8 509.78h-2.5M59.95 504.68h2.5M684.8 504.68h-2.5M59.95 500.72h2.5M684.8 500.72h-2.5M59.95 497.48h2.5M684.8 497.48h-2.5M59.95 494.75h2.5M684.8 494.75h-2.5M59.95 492.38h2.5M684.8 492.38h-2.5M59.95 490.29h2.5M684.8 490.29h-2.5M59.95 557.84h2.5M684.8 557.84h-2.5M59.95 550.64h2.5M684.8 550.64h-2.5M59.95 545.54h2.5M684.8 545.54h-2.5M59.95 541.58h2.5M684.8 541.58h-2.5M59.95 538.34h2.5M684.8 538.34h-2.5M59.95 535.61h2.5M684.8 535.61h-2.5M59.95 533.24h2.5M684.8 533.24h-2.5M59.95 531.15h2.5M684.8 531.15h-2.5M59.95 598.7h2.5M684.8 598.7h-2.5M59.95 591.5h2.5M684.8 591.5h-2.5M59.95 586.4h2.5M684.8 586.4h-2.5M59.95 582.44h2.5M684.8 582.44h-2.5M59.95 579.2h2.5M684.8 579.2h-2.5M59.95 576.47h2.5M684.8 576.47h-2.5M59.95 574.1h2.5M684.8 574.1h-2.5M59.95 572.01h2.5M684.8 572.01h-2.5M59.95 639.56h2.5M684.8 639.56h-2.5M59.95 632.36h2.5M684.8 632.36h-2.5M59.95 627.26h2.5M684.8 627.26h-2.5M59.95 623.3h2.5M684.8 623.3h-2.5M59.95 620.06h2.5M684.8 620.06h-2.5M59.95 617.33h2.5M684.8 617.33h-2.5M59.95 614.96h2.5M684.8 614.96h-2.5M59.95 612.87h2.5M684.8 612.87h-2.5M59.95 660.92h2.5M684.8 660.92h-2.5M59.95 658.19h2.5M684.8 658.19h-2.5M59.95 655.82h2.5M684.8 655.82h-2.5M59.95 653.73h2.5M684.8 653.73h-2.5" stroke="#000" stroke-width="0.75" fill="none"/>
<rect x="59.95" y="388.3" width="624.85" height="275.9" fill="none" stroke="#000" stroke-width="1.15"/>
<g class="tl">
<text x="78.7" y="677.05" text-anchor="middle"><tspan class="xm" dy="2.3">−</tspan><tspan dy="-2.3">32</tspan></text>
<text x="152.2" y="677.05" text-anchor="middle"><tspan class="xm" dy="2.3">−</tspan><tspan dy="-2.3">28</tspan></text>
<text x="225.69" y="677.05" text-anchor="middle"><tspan class="xm" dy="2.3">−</tspan><tspan dy="-2.3">24</tspan></text>
<text x="299.19" y="677.05" text-anchor="middle"><tspan class="xm" dy="2.3">−</tspan><tspan dy="-2.3">20</tspan></text>
<text x="372.68" y="677.05" text-anchor="middle"><tspan class="xm" dy="2.3">−</tspan><tspan dy="-2.3">16</tspan></text>
<text x="446.18" y="677.05" text-anchor="middle"><tspan class="xm" dy="2.3">−</tspan><tspan dy="-2.3">12</tspan></text>
<text x="519.68" y="677.05" text-anchor="middle"><tspan class="xm" dy="2.3">−</tspan><tspan dy="-2.3">8</tspan></text>
<text x="593.17" y="677.05" text-anchor="middle"><tspan class="xm" dy="2.3">−</tspan><tspan dy="-2.3">4</tspan></text>
<text x="666.37" y="677.05" text-anchor="middle">0</text>
<text x="50.35" y="411.25" text-anchor="end">10</text>
<text class="sup" x="55.25" y="406.45" text-anchor="end">0</text>
<text x="42.85" y="452.11" text-anchor="end">10</text>
<text class="mn" x="43.85" y="448.71">−</text>
<text class="sup" x="55.25" y="448.11" text-anchor="end">1</text>
<text x="42.85" y="492.97" text-anchor="end">10</text>
<text class="mn" x="43.85" y="489.57">−</text>
<text class="sup" x="55.25" y="488.97" text-anchor="end">2</text>
<text x="42.85" y="533.83" text-anchor="end">10</text>
<text class="mn" x="43.85" y="530.43">−</text>
<text class="sup" x="55.25" y="529.83" text-anchor="end">3</text>
<text x="42.85" y="574.69" text-anchor="end">10</text>
<text class="mn" x="43.85" y="571.29">−</text>
<text class="sup" x="55.25" y="570.69" text-anchor="end">4</text>
<text x="42.85" y="615.55" text-anchor="end">10</text>
<text class="mn" x="43.85" y="612.15">−</text>
<text class="sup" x="55.25" y="611.55" text-anchor="end">5</text>
<text x="42.85" y="656.41" text-anchor="end">10</text>
<text class="mn" x="43.85" y="653.01">−</text>
<text class="sup" x="55.25" y="652.41" text-anchor="end">6</text>
</g>
<text class="lab" x="319.8" y="699.1" textLength="63.8" lengthAdjust="spacing">accuracy</text>
<text class="cal" transform="translate(389.1 699.5) scale(1.05 1)" style="font-size:14.7px">𝒜</text>
<text class="lab sub" x="404.6" y="702.1" textLength="20" lengthAdjust="spacing">min</text>
<text class="lab" transform="translate(17 526.25) rotate(-90)" text-anchor="middle" textLength="127.5" lengthAdjust="spacing">fraction of events</text>
<rect x="66.27" y="550.3" width="147.83" height="107" rx="2.6" fill="#fff" fill-opacity="0.8" stroke="#ccc" stroke-opacity="0.95" stroke-width="1.1"/>
<circle cx="83.56" cy="559.8" r="3.95" fill="#00bfbf"/>
<text class="lg" x="105.9" y="564.2" textLength="102.8" lengthAdjust="spacing">OL1+CutTools <tspan class="b">dp</tspan></text>
<rect x="79.56" y="573.1" width="8.0" height="8.0" fill="#bfbf00"/>
<text class="lg" x="105.9" y="581.5" textLength="88.5" lengthAdjust="spacing">OL1+Collier <tspan class="b">dp</tspan></text>
<polygon points="83.56,590.3 79.46,598.5 87.66,598.5" fill="#008000"/>
<text class="lg" x="105.9" y="598.8" textLength="43.0" lengthAdjust="spacing">OL2 <tspan class="b">dp</tspan></text>
<polygon points="83.56,608 79.71,610.8 81.18,615.33 85.94,615.33 87.41,610.8" fill="#000000"/>
<text class="lg" x="105.9" y="616.1" textLength="90.6" lengthAdjust="spacing">OL2 <tspan class="b">hp default</tspan></text>
<polygon points="83.56,625.3 79.71,628.1 81.18,632.63 85.94,632.63 87.41,628.1" fill="#ff0000"/>
<text class="lg" x="105.9" y="633.4" textLength="101.4" lengthAdjust="spacing">OL2 <tspan class="b">hp 11 digits</tspan></text>
<circle cx="83.56" cy="646.3" r="3.95" fill="#0000ff"/>
<text class="lg" x="105.9" y="650.7" textLength="43.0" lengthAdjust="spacing">OL2 <tspan class="b">qp</tspan></text>
</g>
</svg>
</body>
</html>
